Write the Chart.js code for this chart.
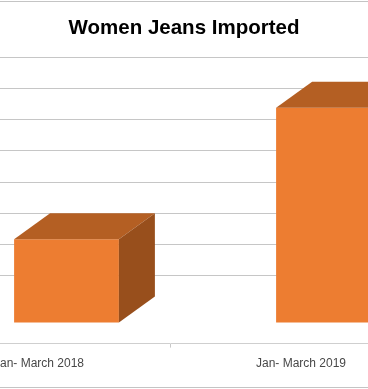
<!DOCTYPE html>
<html>
<head>
<meta charset="utf-8">
<script src="https://cdn.jsdelivr.net/npm/chart.js@4/dist/chart.umd.min.js"></script>
<style>
  html, body { margin: 0; padding: 0; background: #fff; overflow: hidden; width: 368px; height: 389px; }
  #jeansChart { position: absolute; left: -92px; top: 0; }
  .rule { position: absolute; left: 0; width: 368px; height: 1px; background: #c4c4c4; }
</style>
</head>
<body>
<canvas id="jeansChart" width="552" height="389"></canvas>
<div class="rule" style="top:1px"></div>
<div class="rule" style="top:387px"></div>
<script>
// chart data
const periods = ["Jan- March 2018", "Jan- March 2019"];
const imported = [2.68, 6.9];
// back-wall gridline levels (same units as imported)
const gridLevels = [1.516, 2.516, 3.516, 4.516, 5.516, 6.516, 7.516, 8.516];

const depthX = 36, depthY = -26, frontShift = 27.5;

// fake 3D: shift the front face and add top and side faces
const bar3d = {
    id: "bar3d",
    afterDatasetsUpdate(chart) {
        chart.getDatasetMeta(0).data.forEach(bar => { bar.x += frontShift; });
    },
    afterDatasetsDraw(chart) {
        const ctx = chart.ctx;
        chart.getDatasetMeta(0).data.forEach(bar => {
            const l = bar.x - bar.width / 2, r = bar.x + bar.width / 2;
            const t = bar.y, b = bar.base;
            ctx.save();
            ctx.fillStyle = "#b45f23";
            ctx.beginPath();
            ctx.moveTo(l, t); ctx.lineTo(l + depthX, t + depthY);
            ctx.lineTo(r + depthX, t + depthY); ctx.lineTo(r, t);
            ctx.closePath(); ctx.fill();
            ctx.fillStyle = "#984f1c";
            ctx.beginPath();
            ctx.moveTo(r, t); ctx.lineTo(r + depthX, t + depthY);
            ctx.lineTo(r + depthX, b + depthY); ctx.lineTo(r, b);
            ctx.closePath(); ctx.fill();
            ctx.restore();
        });
    }
};

const ctx = document.getElementById("jeansChart").getContext("2d");

new Chart(ctx, {
    type: "bar",
    data: {
        labels: periods,
        datasets: [{
            data: imported,
            backgroundColor: "#ed7d31",
            categoryPercentage: 1,
            barPercentage: 0.4
        }]
    },
    options: {
        responsive: false,
        animation: false,
        layout: { padding: { top: 0, bottom: 9, left: 0, right: 0 } },
        plugins: {
            legend: { display: false },
            tooltip: { enabled: false },
            title: {
                display: true,
                text: "Women Jeans Imported",
                color: "#000",
                font: { family: "Liberation Sans", size: 20.5, weight: "bold" },
                padding: { top: 16, bottom: 17 }
            }
        },
        scales: {
            x: {
                grid: { drawOnChartArea: false, drawTicks: true, tickLength: 4, color: "#c8c8c8" },
                border: { color: "#cfcfcf" },
                ticks: { color: "#484848", padding: 9, font: { family: "Liberation Sans", size: 12 } }
            },
            y: {
                position: "right",
                min: -0.677,
                max: 8.516,
                afterBuildTicks: scale => { scale.ticks = gridLevels.map(v => ({ value: v })); },
                afterFit: scale => { scale.width = 28; },
                ticks: { display: false },
                border: { display: false },
                grid: { color: "#c6c6c6", drawTicks: false }
            }
        }
    },
    plugins: [bar3d]
});
</script>
</body>
</html>
